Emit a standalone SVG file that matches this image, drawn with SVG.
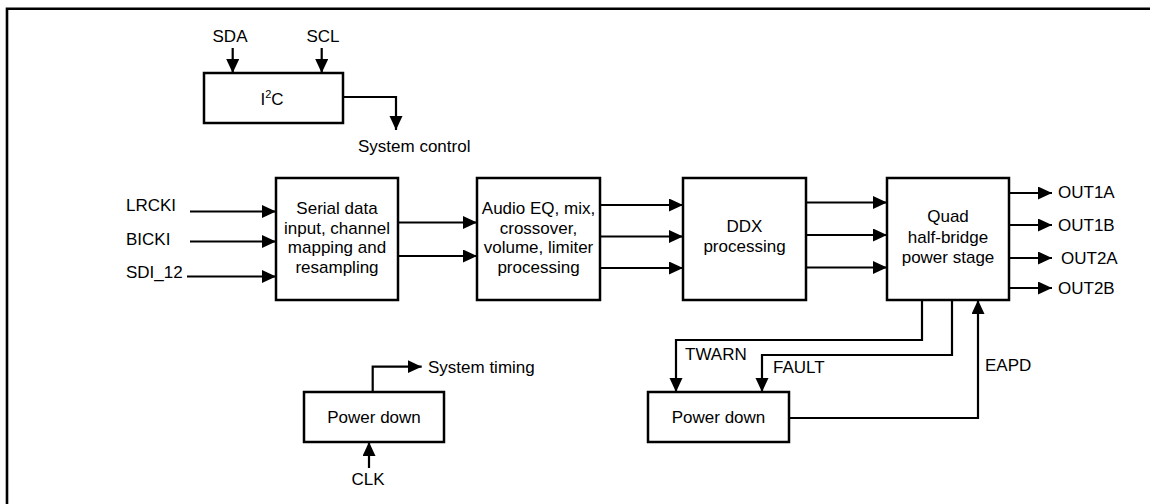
<svg xmlns="http://www.w3.org/2000/svg" width="1150" height="504" viewBox="0 0 1150 504">
<style>
text{font-family:"Liberation Sans",Arial,sans-serif;font-size:17px;fill:#000}
.box{fill:#fff;stroke:#000;stroke-width:2.5}
.c{fill:none;stroke:#000;stroke-width:2.2}
.m{text-anchor:middle}
</style>
<defs>
<marker id="ah" markerUnits="userSpaceOnUse" markerWidth="15" markerHeight="14" refX="14" refY="6.5" orient="auto">
<path d="M0,0 L14,6.5 L0,13 z" fill="#000"/>
</marker>
</defs>
<rect width="1150" height="504" fill="#fff"/>
<path d="M7,504 V8.8 H1150" fill="none" stroke="#000" stroke-width="2.6"/>

<g id="connectors">
<path class="c" d="M232.7,48 V73" marker-end="url(#ah)"/>
<path class="c" d="M321.7,48 V73" marker-end="url(#ah)"/>
<path class="c" d="M343,97 H396 V130" marker-end="url(#ah)"/>
<path class="c" d="M190,211.5 H276" marker-end="url(#ah)"/>
<path class="c" d="M190,241.5 H276" marker-end="url(#ah)"/>
<path class="c" d="M187,276.5 H276" marker-end="url(#ah)"/>
<path class="c" d="M398,222.5 H477" marker-end="url(#ah)"/>
<path class="c" d="M398,256 H477" marker-end="url(#ah)"/>
<path class="c" d="M600,205 H683" marker-end="url(#ah)"/>
<path class="c" d="M600,236.5 H683" marker-end="url(#ah)"/>
<path class="c" d="M600,268 H683" marker-end="url(#ah)"/>
<path class="c" d="M806,202.5 H887" marker-end="url(#ah)"/>
<path class="c" d="M806,235 H887" marker-end="url(#ah)"/>
<path class="c" d="M806,267.5 H887" marker-end="url(#ah)"/>
<path class="c" d="M1009,193 H1052" marker-end="url(#ah)"/>
<path class="c" d="M1009,225 H1052" marker-end="url(#ah)"/>
<path class="c" d="M1009,258 H1052" marker-end="url(#ah)"/>
<path class="c" d="M1009,288 H1052" marker-end="url(#ah)"/>
<path class="c" d="M922,300 V340 H676 V392" marker-end="url(#ah)"/>
<path class="c" d="M952,300 V355 H762 V392" marker-end="url(#ah)"/>
<path class="c" d="M789,418 H978 V300" marker-end="url(#ah)"/>
<path class="c" d="M372.7,392 V366.7 H421.7" marker-end="url(#ah)"/>
<path class="c" d="M369,468 V442" marker-end="url(#ah)"/>
</g>

<g id="labels">
<text class="m" x="230" y="42">SDA</text>
<text class="m" x="323" y="42">SCL</text>
<text x="358" y="151.5">System control</text>
<text x="126" y="211">LRCKI</text>
<text x="126" y="245">BICKI</text>
<text x="126" y="278">SDI_12</text>
<text x="1058" y="198">OUT1A</text>
<text x="1058" y="231">OUT1B</text>
<text x="1061" y="264">OUT2A</text>
<text x="1058" y="294">OUT2B</text>
<text x="685" y="360">TWARN</text>
<text x="773" y="373">FAULT</text>
<text x="985" y="371">EAPD</text>
<text x="428" y="373">System timing</text>
<text class="m" x="368" y="485">CLK</text>
</g>

<g id="i2c">
<rect class="box" x="204" y="73" width="139" height="50"/>
<text class="m" x="272" y="105">I<tspan font-size="11" dy="-7">2</tspan><tspan dy="7">C</tspan></text>
</g>

<g id="serial">
<rect class="box" x="276" y="178" width="122" height="122"/>
<text class="m" x="337" y="214">Serial data</text>
<text class="m" x="337" y="233.5">input, channel</text>
<text class="m" x="337" y="253">mapping and</text>
<text class="m" x="337" y="272.5">resampling</text>
</g>

<g id="audio">
<rect class="box" x="477" y="178" width="123" height="122"/>
<text class="m" x="538.5" y="214">Audio EQ, mix,</text>
<text class="m" x="538.5" y="233.5">crossover,</text>
<text class="m" x="538.5" y="253">volume, limiter</text>
<text class="m" x="538.5" y="272.5">processing</text>
</g>

<g id="ddx">
<rect class="box" x="683" y="178" width="123" height="122"/>
<text class="m" x="744.5" y="231.5">DDX</text>
<text class="m" x="744.5" y="251.5">processing</text>
</g>

<g id="quad">
<rect class="box" x="887" y="178" width="122" height="122"/>
<text class="m" x="948" y="222">Quad</text>
<text class="m" x="948" y="242.5">half-bridge</text>
<text class="m" x="948" y="263">power stage</text>
</g>

<g id="powerdown1">
<rect class="box" x="304" y="392" width="140" height="50"/>
<text class="m" x="374" y="423">Power down</text>
</g>

<g id="powerdown2">
<rect class="box" x="648" y="392" width="141" height="50"/>
<text class="m" x="718.5" y="423">Power down</text>
</g>
</svg>
